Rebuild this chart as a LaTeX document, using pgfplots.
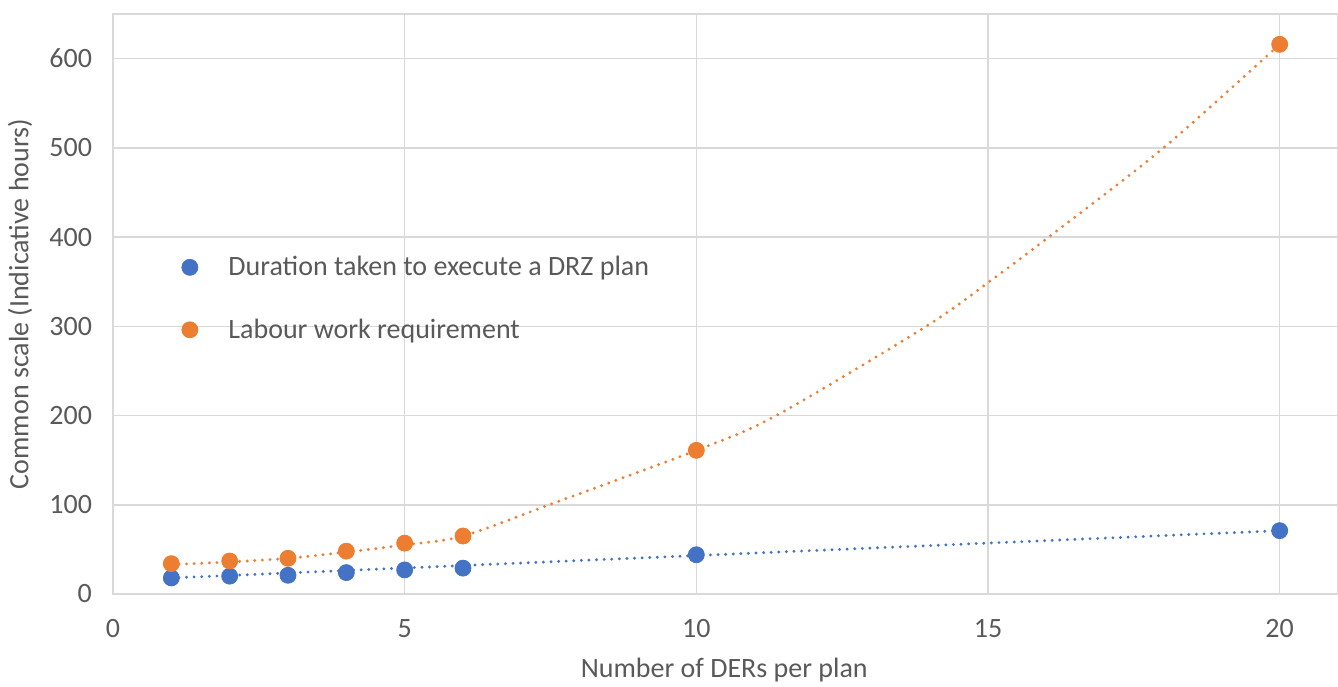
\documentclass[border=0pt]{standalone}
\usepackage{fontspec}
\setmainfont{Carlito}
\usepackage{pgfplots}
\pgfplotsset{compat=1.18}
\definecolor{xlblue}{HTML}{4472C4}
\definecolor{xlorange}{HTML}{ED7D31}
\definecolor{gridgray}{HTML}{D9D9D9}
\definecolor{textgray}{HTML}{595959}

\begin{document}
\begin{tikzpicture}
\begin{axis}[
  scale only axis,
  width=612.5pt, height=290pt,
  xmin=0, xmax=21,
  ymin=0, ymax=650,
  xtick={0,5,10,15,20},
  ytick={0,100,...,600},
  grid=major,
  major grid style={gridgray, line width=0.8pt},
  axis line style={gridgray, line width=0.8pt},
  major tick length=0pt,
  font=\fontsize{14}{16}\selectfont,
  tick label style={textgray},
  /pgf/number format/assume math mode=true,
  xticklabel style={yshift=-9pt},
  yticklabel style={xshift=-7pt},
  xlabel={Number of DERs per plan},
  ylabel={Common scale (Indicative hours)},
  label style={textgray},
  xlabel style={at={(axis description cs:0.499,-0.131)}, anchor=center},
  ylabel style={at={(axis description cs:-0.0759,0.5)}, anchor=center},
  legend style={at={(axis description cs:0.051,0.597)}, anchor=north west,
    draw=none, fill=none, text=textgray, row sep=16pt,
    font=\fontsize{14}{16}\selectfont},
  legend cell align=left,
  legend image code/.code={
    \draw[#1] plot coordinates {(0.3cm,0cm)};
    \path (0.9cm,0cm);
  },
]
% trend lines
\addplot[forget plot, xlblue, line width=1.6pt, line cap=round,
  dash pattern=on 0pt off 3.8pt] coordinates {(1,18) (20,71)};
\addplot[forget plot, xlorange, line width=1.6pt, line cap=round,
  dash pattern=on 0pt off 3.8pt, smooth] coordinates {
  (1,33) (2,36) (3,40) (4,47) (5,55) (6,65) (7.48,100) (10,161)
  (11.37,200) (13.94,300) (15,349) (16.04,400) (18.01,500) (20,616)};
% data
\addplot[only marks, mark=*, mark size=4pt, xlblue, mark options={draw=xlblue, fill=xlblue}]
  coordinates {(1,18) (2,20) (3,21) (4,24) (5,27) (6,29) (10,44) (20,71)};
\addlegendentry{Duration taken to execute a DRZ plan}
\addplot[only marks, mark=*, mark size=4pt, xlorange, mark options={draw=xlorange, fill=xlorange}]
  coordinates {(1,34) (2,37) (3,40) (4,48) (5,57) (6,65) (10,161) (20,616)};
\addlegendentry{Labour work requirement}
\end{axis}
\pgfresetboundingbox
\path (current axis.south west) ++(-56.5pt,-46pt) rectangle ++(669pt,343pt);
\end{tikzpicture}
\end{document}
